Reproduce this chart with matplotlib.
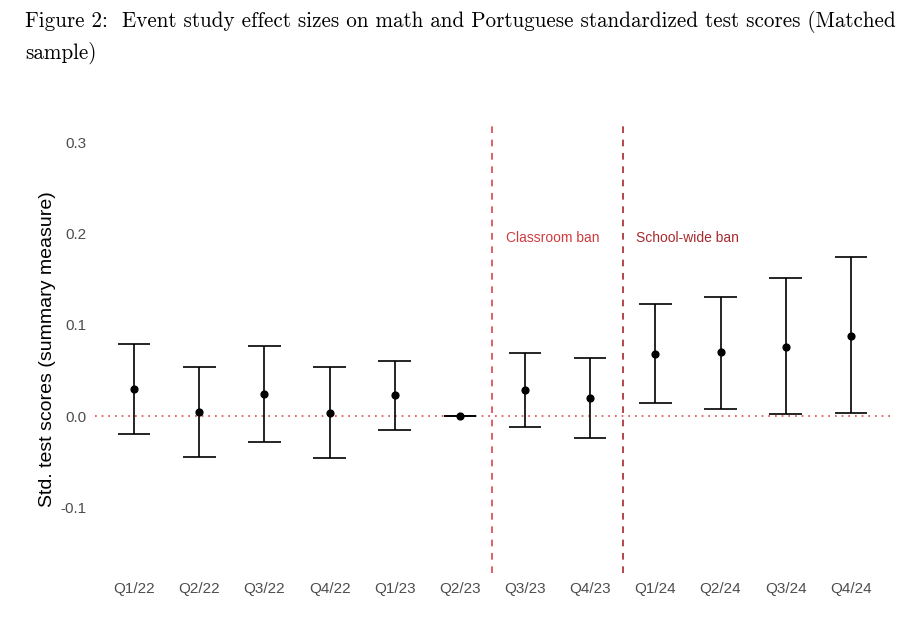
import matplotlib
matplotlib.use("Agg")
import matplotlib.pyplot as plt

quarters = ["Q1/22", "Q2/22", "Q3/22", "Q4/22", "Q1/23", "Q2/23",
            "Q3/23", "Q4/23", "Q1/24", "Q2/24", "Q3/24", "Q4/24"]
estimate = [0.030, 0.005, 0.024, 0.004, 0.023, 0.000,
            0.029, 0.020, 0.068, 0.070, 0.076, 0.088]
ci_low = [-0.019, -0.045, -0.028, -0.046, -0.015, 0.000,
          -0.012, -0.024, 0.014, 0.008, 0.002, 0.003]
ci_high = [0.079, 0.054, 0.077, 0.054, 0.061, 0.000,
           0.069, 0.064, 0.123, 0.131, 0.151, 0.174]
y_ticks = [-0.1, 0.0, 0.1, 0.2, 0.3]
y_tick_labels = ["-0.1", "0.0", "0.1", "0.2", "0.3"]
# policy events sit between quarters (index positions)
events = [(5.5, "Classroom ban", "#d9474a", "#cf3b3f"),
          (7.5, "School-wide ban", "#a8282c", "#a82a2e")]

plt.rcParams["font.family"] = ["Liberation Sans", "DejaVu Sans"]

fig = plt.figure(figsize=(9.2, 6.19), dpi=100)
ax = fig.add_axes([0.1033, 0.074, 0.864, 0.724])

x = list(range(len(quarters)))
ax.axhline(0, color="#d9474a", lw=1.2, ls=(0, (1, 3)), zorder=1)
for i in x:
    ax.vlines(i, ci_low[i], ci_high[i], color="black", lw=1.2, zorder=2)
    ax.hlines([ci_low[i], ci_high[i]], i - 0.25, i + 0.25, color="black",
              lw=1.2, zorder=2)
ax.scatter(x, estimate, s=24, color="black", zorder=3)

for xpos, label, lc, tc in events:
    ax.axvline(xpos, color=lc, lw=1.2, ls=(0, (4, 4)), zorder=1)
    ax.text(xpos + 0.2, 0.195, label, color=tc, fontsize=10,
            ha="left", va="center")

ax.set_xlim(-0.6, 11.6)
ax.set_ylim(-0.172, 0.319)
ax.set_xticks(x)
ax.set_xticklabels(quarters)
ax.set_yticks(y_ticks)
ax.set_yticklabels(y_tick_labels)
ax.tick_params(length=0, labelsize=11, labelcolor="#4d4d4d", pad=6)
ax.set_ylabel("Std. test scores (summary measure)", fontsize=14,
              color="black", labelpad=3)
for s in ax.spines.values():
    s.set_visible(False)

fig.text(0.027, 0.982,
         "Figure 2:  Event study effect sizes on math and Portuguese standardized test scores (Matched\nsample)",
         family="cmr10", fontsize=15.2, ha="left", va="top", linespacing=1.5)

fig.savefig("out.png", dpi=100)
